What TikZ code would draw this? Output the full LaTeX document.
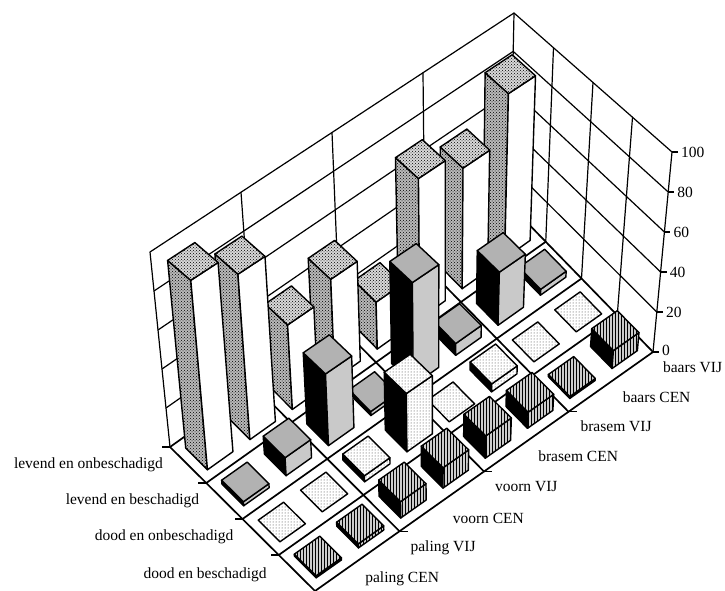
\documentclass[tikz,border=0pt]{standalone}
\usepackage{fontspec}
\setmainfont{Liberation Serif}
\usetikzlibrary{patterns}
\newcommand\PP[3]{({px(#1,#2,#3)},{py(#1,#2,#3)})}
\newcommand\drawbar[3]{%
  \pgfmathsetmacro\ua{(#1-1+0.2)/8}%
  \pgfmathsetmacro\ub{(#1-0.2)/8}%
  \pgfmathsetmacro\va{(#2-1+0.2)/4}%
  \pgfmathsetmacro\vb{(#2-0.2)/4}%
  \pgfmathsetmacro\ww{#3/100}%
  \ifnum#3>0
    \path[left#2] \PP{\ua}{\va}{0} -- \PP{\ua}{\vb}{0} -- \PP{\ua}{\vb}{\ww} -- \PP{\ua}{\va}{\ww} -- cycle;
    \path[front#2] \PP{\ua}{\vb}{0} -- \PP{\ub}{\vb}{0} -- \PP{\ub}{\vb}{\ww} -- \PP{\ua}{\vb}{\ww} -- cycle;
  \fi
  \path[top#2] \PP{\ua}{\va}{\ww} -- \PP{\ub}{\va}{\ww} -- \PP{\ub}{\vb}{\ww} -- \PP{\ua}{\vb}{\ww} -- cycle;
}
\begin{document}
\begin{tikzpicture}[x=1pt,y=-1pt,
  declare function={
    px(\pu,\pv,\pw)=(1-\pw)*((1-\pu)*(1-\pv)*170+(1-\pu)*\pv*315+\pu*(1-\pv)*510+\pu*\pv*653)+\pw*((1-\pu)*(1-\pv)*150+(1-\pu)*\pv*305+\pu*(1-\pv)*514+\pu*\pv*672);
    py(\pu,\pv,\pw)=(1-\pw)*((1-\pu)*(1-\pv)*447+(1-\pu)*\pv*591+\pu*(1-\pv)*205+\pu*\pv*352)+\pw*((1-\pu)*(1-\pv)*252+(1-\pu)*\pv*384+\pu*(1-\pv)*13+\pu*\pv*152);
  },
  wall/.style={line width=1.2pt, line cap=round, line join=round},
  floorline/.style={line width=1.7pt, line cap=round, line join=round},
  tick/.style={line width=1.1pt},
  lab/.style={font=\fontsize{15.5}{17}\selectfont, inner sep=0pt},
  barline/.style={draw=black, line width=1.4pt, line join=round},
  top1/.style={barline, preaction={fill=gray!30}, pattern=crosshatch dots},
  left1/.style={barline, preaction={fill=gray!55}, pattern=crosshatch dots},
  front1/.style={barline, fill=white},
  top2/.style={barline, fill=gray!60},
  left2/.style={barline, fill=black},
  front2/.style={barline, fill=gray!42},
  top3/.style={barline, preaction={fill=white}, pattern=dots, pattern color=black!80},
  left3/.style={barline, fill=black},
  front3/.style={barline, preaction={fill=white}, pattern=dots, pattern color=black!80},
  top4/.style={barline, preaction={fill=gray!40}, pattern=vertical lines},
  left4/.style={barline, fill=black},
  front4/.style={barline, preaction={fill=gray!40}, pattern=vertical lines},
]
\fill[white] (0,0) rectangle (725,591);
\useasboundingbox (0,0) rectangle (725,591);

% walls
\foreach \t in {0.2,0.4,0.6,0.8} {
  \draw[wall] \PP{0}{0}{\t} -- \PP{1}{0}{\t} -- \PP{1}{1}{\t};
}
\foreach \t in {0.25,0.5,0.75} {
  \draw[wall] \PP{\t}{0}{0} -- \PP{\t}{0}{1};
  \draw[wall] \PP{1}{\t}{0} -- \PP{1}{\t}{1};
}
\draw[wall] \PP{0}{0}{0} -- \PP{0}{0}{1} -- \PP{1}{0}{1} -- \PP{1}{1}{1} -- \PP{1}{1}{0};
\draw[wall] \PP{1}{0}{0} -- \PP{1}{0}{1};

% floor
\foreach \t in {0.25,0.5,0.75} {
  \draw[floorline] \PP{\t}{0}{0} -- \PP{\t}{1}{0};
  \draw[floorline] \PP{0}{\t}{0} -- \PP{1}{\t}{0};
}
\draw[floorline] \PP{0}{0}{0} -- \PP{0}{1}{0} -- \PP{1}{1}{0} -- \PP{1}{0}{0} -- cycle;

% z axis ticks and labels
\foreach \k in {20,40,60,80,100} {
  \draw[tick] \PP{1}{1}{\k/100} -- ++(6,0);
  \path \PP{1}{1}{\k/100} node[lab, anchor=west, xshift=9pt] {\k};
}
\draw[tick] \PP{1}{1}{0} -- ++(6,0);
\path \PP{1}{1}{0} node[lab, anchor=west, xshift=9pt, yshift=2pt] {0};
% row axis ticks and labels
\foreach \t in {0,0.25,0.5,0.75} {
  \draw[tick] \PP{0}{\t}{0} -- ++(-8,0);
}
\path \PP{0}{0.125}{0} node[lab, anchor=east, xshift=-25pt] {levend en onbeschadigd};
\path \PP{0}{0.375}{0} node[lab, anchor=east, xshift=-25pt] {levend en beschadigd};
\path \PP{0}{0.625}{0} node[lab, anchor=east, xshift=-27pt] {dood en onbeschadigd};
\path \PP{0}{0.875}{0} node[lab, anchor=east, xshift=-30pt, yshift=-2pt] {dood en beschadigd};
% column axis ticks and labels
\foreach \t in {0.25,0.5,0.75} {
  \draw[tick] \PP{\t}{1}{0} -- ++(8,0);
}
\path \PP{0.0625}{1}{0} node[lab, anchor=west, xshift=29pt, yshift=-3pt] {paling CEN};
\path \PP{0.1875}{1}{0} node[lab, anchor=west, xshift=32pt, yshift=-2pt] {paling VIJ};
\path \PP{0.3125}{1}{0} node[lab, anchor=west, xshift=32pt, yshift=-2pt] {voorn CEN};
\path \PP{0.4375}{1}{0} node[lab, anchor=west, xshift=32pt] {voorn VIJ};
\path \PP{0.5625}{1}{0} node[lab, anchor=west, xshift=33pt] {brasem CEN};
\path \PP{0.6875}{1}{0} node[lab, anchor=west, xshift=33pt] {brasem VIJ};
\path \PP{0.8125}{1}{0} node[lab, anchor=west, xshift=33pt] {baars CEN};
\path \PP{0.9375}{1}{0} node[lab, anchor=west, xshift=31pt, yshift=0pt] {baars VIJ};

% bars, back to front
\drawbar{8}{1}{85}\drawbar{7}{1}{62}\drawbar{6}{1}{72}\drawbar{5}{1}{24}
\drawbar{4}{1}{51}\drawbar{3}{1}{43}\drawbar{2}{1}{84}\drawbar{1}{1}{96}
\drawbar{8}{2}{3}\drawbar{7}{2}{27}\drawbar{6}{2}{6}\drawbar{5}{2}{52}
\drawbar{4}{2}{2}\drawbar{3}{2}{36}\drawbar{2}{2}{9}\drawbar{1}{2}{2}
\drawbar{8}{3}{0}\drawbar{7}{3}{0}\drawbar{6}{3}{4}\drawbar{5}{3}{0}
\drawbar{4}{3}{29}\drawbar{3}{3}{3}\drawbar{2}{3}{0}\drawbar{1}{3}{0}
\drawbar{8}{4}{9}\drawbar{7}{4}{1}\drawbar{6}{4}{8}\drawbar{5}{4}{11}
\drawbar{4}{4}{10}\drawbar{3}{4}{8}\drawbar{2}{4}{2}\drawbar{1}{4}{1}
\end{tikzpicture}
\end{document}
